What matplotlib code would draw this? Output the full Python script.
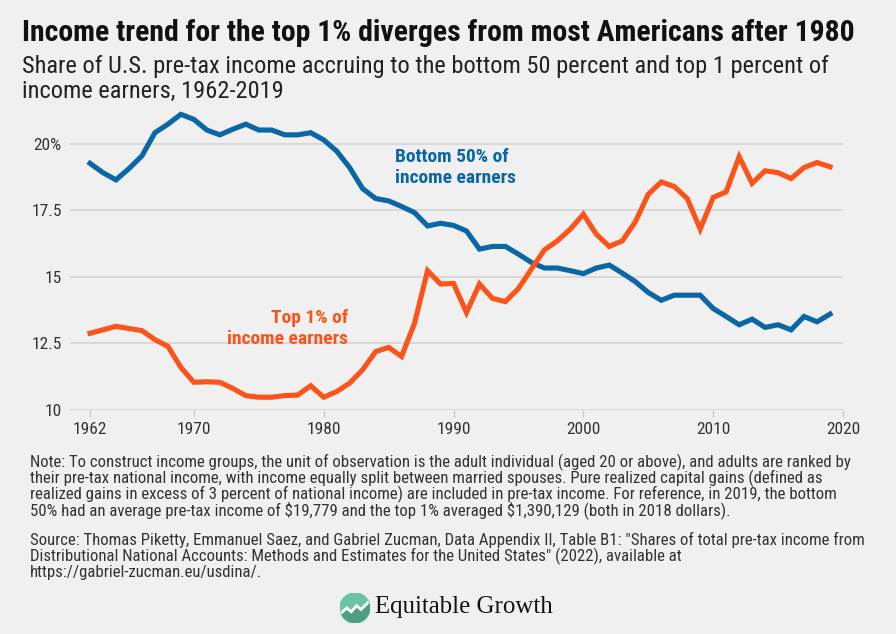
import matplotlib
matplotlib.use("Agg")
import matplotlib.pyplot as plt
from matplotlib import font_manager
from matplotlib.patches import Circle, Polygon
import numpy as np

years = list(range(1962, 2020))
bottom50 = [19.26, 18.91, 18.64, 19.06, 19.54, 20.41, 20.73, 21.10, 20.91, 20.51,
            20.33, 20.54, 20.73, 20.51, 20.51, 20.33, 20.33, 20.41, 20.14, 19.72,
            19.10, 18.31, 17.94, 17.85, 17.64, 17.41, 16.91, 17.01, 16.93, 16.72,
            16.04, 16.14, 16.14, 15.85, 15.54, 15.33, 15.33, 15.23, 15.12, 15.33,
            15.44, 15.14, 14.82, 14.41, 14.12, 14.31, 14.31, 14.31, 13.81, 13.51,
            13.20, 13.41, 13.10, 13.20, 13.01, 13.51, 13.31, 13.60]
top1 = [12.88, 13.01, 13.14, 13.06, 12.98, 12.64, 12.39, 11.60, 11.04, 11.06,
        11.04, 10.81, 10.54, 10.48, 10.48, 10.54, 10.56, 10.91, 10.48, 10.69,
        11.01, 11.51, 12.19, 12.35, 12.01, 13.26, 15.23, 14.73, 14.75, 13.66,
        14.73, 14.19, 14.07, 14.56, 15.29, 16.01, 16.35, 16.79, 17.35, 16.60,
        16.14, 16.35, 17.06, 18.10, 18.56, 18.39, 17.94, 16.79, 17.98, 18.19,
        19.51, 18.51, 18.98, 18.91, 18.69, 19.10, 19.29, 19.13]
xticks = [1962, 1970, 1980, 1990, 2000, 2010, 2020]
yticks = [10, 12.5, 15, 17.5, 20]
ytick_labels = ["10", "12.5", "15", "17.5", "20%"]

title = "Income trend for the top 1% diverges from most Americans after 1980"
subtitle1 = "Share of U.S. pre-tax income accruing to the bottom 50 percent and top 1 percent of"
subtitle2 = "income earners, 1962-2019"
note_lines = [
    "Note: To construct income groups, the unit of observation is the adult individual (aged 20 or above), and adults are ranked by",
    "their pre-tax national income, with income equally split between married spouses. Pure realized capital gains (defined as",
    "realized gains in excess of 3 percent of national income) are included in pre-tax income. For reference, in 2019, the bottom",
    "50% had an average pre-tax income of $19,779 and the top 1% averaged $1,390,129 (both in 2018 dollars).",
]
source_lines = [
    "Source: Thomas Piketty, Emmanuel Saez, and Gabriel Zucman, Data Appendix II, Table B1: \"Shares of total pre-tax income from",
    "Distributional National Accounts: Methods and Estimates for the United States\" (2022), available at",
    "https://gabriel-zucman.eu/usdina/.",
]

plt.rcParams['text.parse_math'] = False
installed = {f.name for f in font_manager.fontManager.ttflist}
narrow = None
for cand in ["Liberation Sans Narrow", "Roboto Condensed", "Open Sans Condensed", "DejaVu Sans"]:
    if cand in installed:
        narrow = cand
        break
plt.rcParams['font.family'] = [narrow, 'DejaVu Sans']
plt.rcParams['font.stretch'] = 'condensed'

BG = "#f0f0f0"
BLUE = "#0b66a5"
ORANGE = "#fb541b"
W, H = 896, 634
fig = plt.figure(figsize=(W / 100, H / 100), dpi=100, facecolor=BG)
renderer = fig.canvas.get_renderer()

def fy(py):
    return 1 - py / H

def fx(px):
    return px / W

def fit_text(x, y, s, target_w, base_size, **kw):
    t = fig.text(fx(x), fy(y), s, fontsize=base_size, va='center', ha='left', **kw)
    w = t.get_window_extent(renderer).width
    if w > 0:
        t.set_fontsize(base_size * target_w / w)
    return t

# header
fit_text(22, 33, title, 833, 17, fontweight='bold', color='#111111')
sub = fit_text(22, 67, subtitle1, 808, 14, color='#222222')
fig.text(fx(22), fy(91), subtitle2, fontsize=sub.get_fontsize(), va='center', ha='left', color='#222222')

# axes
left, right = 70, 843
top_px, bot_px = 109, 410
ax = fig.add_axes([fx(left), fy(bot_px), (right - left) / W, (bot_px - top_px) / H])
ax.set_facecolor(BG)
ax.set_xlim(1960.46, 2020)
ax.set_ylim(10, 21.3)
for s in ax.spines.values():
    s.set_visible(False)
ax.set_yticks(yticks)
ax.set_yticklabels(ytick_labels)
ax.set_xticks(xticks)
ax.grid(axis='y', color='#d8d8d8', linewidth=1.4)
ax.set_axisbelow(True)
ax.tick_params(axis='y', length=0, pad=6, labelsize=12.5, labelcolor='#333333')
ax.tick_params(axis='x', length=5, width=1, color='#c8c8c8', pad=4, labelsize=12.5, labelcolor='#333333')

ax.plot(years, bottom50, color=BLUE, linewidth=3.7, solid_joinstyle='miter', clip_on=False)
ax.plot(years, top1, color=ORANGE, linewidth=3.7, solid_joinstyle='miter', clip_on=False)

ax.text(1985.5, 19.1, "Bottom 50% of\nincome earners", color=BLUE, fontsize=14,
        fontweight='bold', ha='left', va='center', linespacing=1.2)
ax.text(1981.9, 13.05, "Top 1% of\nincome earners", color=ORANGE, fontsize=14,
        fontweight='bold', ha='right', va='center', linespacing=1.2)

# notes
nt = fit_text(30, 462, note_lines[0], 822, 9.5, color='#333333')
ns = nt.get_fontsize()
for i, line in enumerate(note_lines[1:], start=1):
    fig.text(fx(30), fy(462 + 16 * i), line, fontsize=ns, va='center', ha='left', color='#333333')
for i, line in enumerate(source_lines):
    fig.text(fx(30), fy(540 + 16 * i), line, fontsize=ns, va='center', ha='left', color='#333333')

# logo
lax = fig.add_axes([fx(340), fy(623), 30 / W, 30 / H])
lax.set_xlim(-1, 1)
lax.set_ylim(-1, 1)
lax.set_aspect('equal')
lax.axis('off')
circ = Circle((0, 0), 1, color='#6cc4a6')
lax.add_patch(circ)
zz_x = [-1.0, -0.55, -0.25, 0.1, 0.4, 1.0]
zz_y = [-0.4, 0.0, -0.25, 0.15, -0.1, 0.5]
lower = Polygon(list(zip(zz_x, zz_y)) + [(1.0, -1.0), (-1.0, -1.0)], closed=True,
                color='#4e9f82', zorder=2)
lax.add_patch(lower)
lower.set_clip_path(circ)
zl, = lax.plot(zz_x, zz_y, color='white', linewidth=2.0, zorder=3, solid_joinstyle='miter')
zl.set_clip_path(circ)
fit_text(375, 607, "Equitable Growth", 178, 17, family=['Liberation Serif', 'DejaVu Serif'], color='#111111')

fig.savefig("out.png", dpi=100, facecolor=BG)
